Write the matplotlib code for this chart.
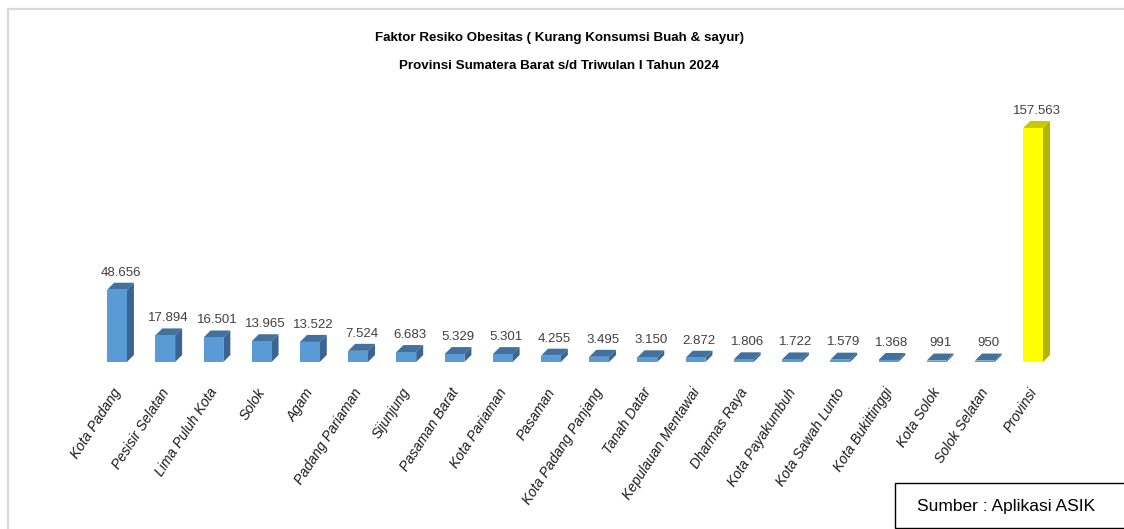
import matplotlib.pyplot as plt
import numpy as np
from matplotlib.patches import Polygon, Rectangle

# data (values in people; labels use dot as thousands separator)
regions = ["Kota Padang", "Pesisir Selatan", "Lima Puluh Kota", "Solok", "Agam",
           "Padang Pariaman", "Sijunjung", "Pasaman Barat", "Kota Pariaman", "Pasaman",
           "Kota Padang Panjang", "Tanah Datar", "Kepulauan Mentawai", "Dharmas Raya",
           "Kota Payakumbuh", "Kota Sawah Lunto", "Kota Bukittinggi", "Kota Solok",
           "Solok Selatan", "Provinsi"]
values = [48656, 17894, 16501, 13965, 13522, 7524, 6683, 5329, 5301, 4255,
          3495, 3150, 2872, 1806, 1722, 1579, 1368, 991, 950, 157563]

NARROW = ['Liberation Sans Narrow', 'Liberation Sans', 'DejaVu Sans']
plt.rcParams['font.family'] = ['Liberation Sans', 'DejaVu Sans']

W, H = 1124, 529
fig = plt.figure(figsize=(W / 100, H / 100), dpi=100)

XLIM = (-0.6, 19.6)
YTOP = 176400
ax = fig.add_axes([88.1 / W, (H - 362) / H, (1062 - 88.1) / W, 262 / H])
ax.set_xlim(*XLIM)
ax.set_ylim(0, YTOP)
ax.axis('off')

# pixel -> data scale for the 3d depth
px_x = (1062 - 88.1) / (XLIM[1] - XLIM[0])
px_y = 262 / YTOP
depth_px = 7
dx = depth_px / px_x
dy = depth_px / px_y

bw = 0.41
x = np.arange(len(values))
for i, v in enumerate(values):
    if regions[i] == "Provinsi":
        front, dark, top = "#ffff00", "#b3b300", "#c8c800"
    else:
        front, dark, top = "#5b9bd5", "#3a6592", "#41719c"
    x0, x1 = x[i] - bw / 2, x[i] + bw / 2
    ax.add_patch(Polygon([(x1, 0), (x1 + dx, dy), (x1 + dx, v + dy), (x1, v)],
                         closed=True, facecolor=dark, edgecolor='none'))
    ax.add_patch(Polygon([(x0, v), (x1, v), (x1 + dx, v + dy), (x0 + dx, v + dy)],
                         closed=True, facecolor=top, edgecolor='none'))
    ax.bar(x[i], v, width=bw, color=front, edgecolor='none')
    lbl = f"{v:,}".replace(",", ".")
    ax.annotate(lbl, (x[i] + dx / 2, v + dy), xytext=(0, 3), textcoords='offset points',
                ha='center', va='bottom', fontsize=9.5, color='#404040', family=NARROW)

# category labels
for i, name in enumerate(regions):
    ax.annotate(name, (x[i] - 0.1, 0), xytext=(0, -17), textcoords='offset points',
                ha='right', va='top', rotation=57, rotation_mode='anchor',
                fontsize=10, style='italic', color='#1a1a1a', annotation_clip=False)

fig.text(0.4975, 1 - 38 / H, "Faktor Resiko Obesitas ( Kurang Konsumsi Buah & sayur)",
         ha='center', va='center', fontsize=9.6, fontweight='bold', family=NARROW)
fig.text(0.4975, 1 - 66 / H, "Provinsi Sumatera Barat s/d Triwulan I Tahun 2024",
         ha='center', va='center', fontsize=9.6, fontweight='bold', family=NARROW)

# outer grey frame
fig.patches.append(Rectangle((8 / W, -0.1), 1.2, 1 - 9 / H + 0.1, transform=fig.transFigure,
                             fill=False, edgecolor='#d9d9d9', linewidth=1.6))

# source box
fig.patches.append(Rectangle((895 / W, 1 / H), 0.3, 45 / H, transform=fig.transFigure,
                             facecolor='white', edgecolor='black', linewidth=1.0))
fig.text(1006 / W, 1 - 506 / H, "Sumber : Aplikasi ASIK", ha='center', va='center',
         fontsize=12.5, color='black')

fig.savefig("out.png", dpi=100)
